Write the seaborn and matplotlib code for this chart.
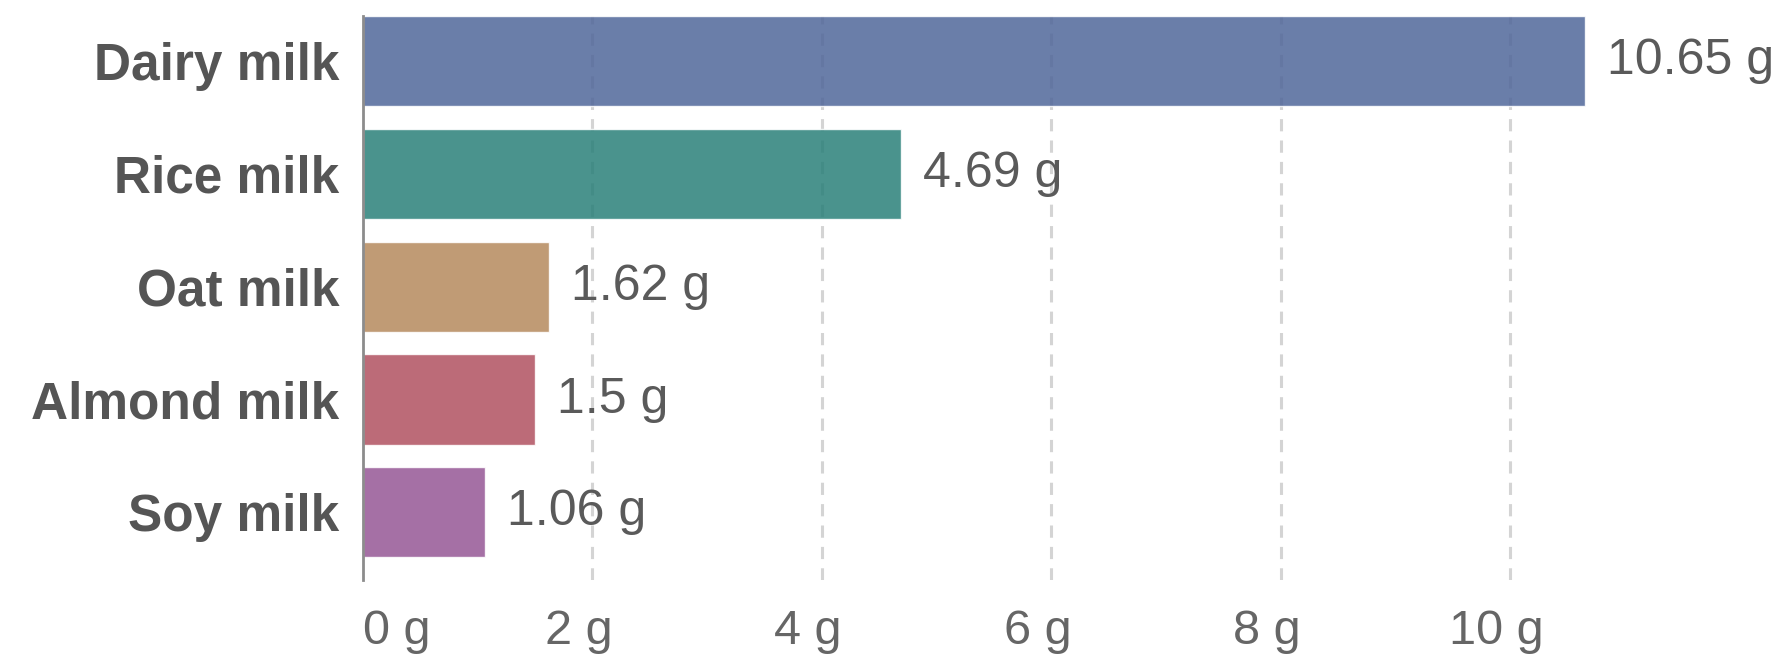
import matplotlib
matplotlib.use("Agg")
import matplotlib.pyplot as plt
import matplotlib.transforms as mtransforms
import seaborn as sns
import pandas as pd

categories = ["Dairy milk", "Rice milk", "Oat milk", "Almond milk", "Soy milk"]
values = [10.65, 4.69, 1.62, 1.5, 1.06]
value_labels = ["10.65 g", "4.69 g", "1.62 g", "1.5 g", "1.06 g"]
colors = ["#50679a", "#2a8079", "#b58a5d", "#b15160", "#965796"]
xticks = [0, 2, 4, 6, 8, 10]
xtick_labels = ["0 g", "2 g", "4 g", "6 g", "8 g", "10 g"]

sns.set_theme(style="white")
plt.rcParams["font.family"] = ["Liberation Sans", "DejaVu Sans"]

df = pd.DataFrame({"drink": categories, "value": values})

fig = plt.figure(figsize=(17.88, 6.64), dpi=100)
ax = fig.add_axes([0.203, 0.1265, 0.77, 0.8494])

sns.barplot(data=df, y="drink", x="value", hue="drink", palette=colors,
            order=categories, hue_order=categories, orient="h",
            width=0.8, alpha=0.85, saturation=1, legend=False, ax=ax, zorder=3)

ax.set_xlim(0, 12)
ax.set_ylim(4.6, -0.4)
ax.set_xticks(xticks)
ax.set_xticklabels(xtick_labels)
ax.set_xlabel("")
ax.set_ylabel("")

for v in xticks[1:]:
    ax.axvline(v, color="#d4d4d4", lw=2.2, ls=(0, (4, 3)), zorder=1)

for i, (v, lab) in enumerate(zip(values, value_labels)):
    ax.annotate(lab, xy=(v, i), xytext=(16, 0), textcoords="offset points",
                ha="left", va="center", fontsize=36, color="#5a5a5a",
                annotation_clip=False)

for s in ["top", "right", "bottom"]:
    ax.spines[s].set_visible(False)
ax.spines["left"].set_color("#8c8c8c")
ax.spines["left"].set_linewidth(2)
ax.spines["left"].set_zorder(5)

ax.tick_params(axis="y", length=0, pad=17, labelsize=37, labelcolor="#555555")
for t in ax.get_yticklabels():
    t.set_fontweight("bold")
ax.tick_params(axis="x", length=0, pad=21, labelsize=35, labelcolor="#666666")

offset = mtransforms.ScaledTranslation(-0.14, 0, fig.dpi_scale_trans)
labels = ax.get_xticklabels()
for j, t in enumerate(labels):
    if j == 0:
        t.set_ha("left")
    else:
        t.set_transform(t.get_transform() + offset)

fig.savefig("out.png", dpi=100)
